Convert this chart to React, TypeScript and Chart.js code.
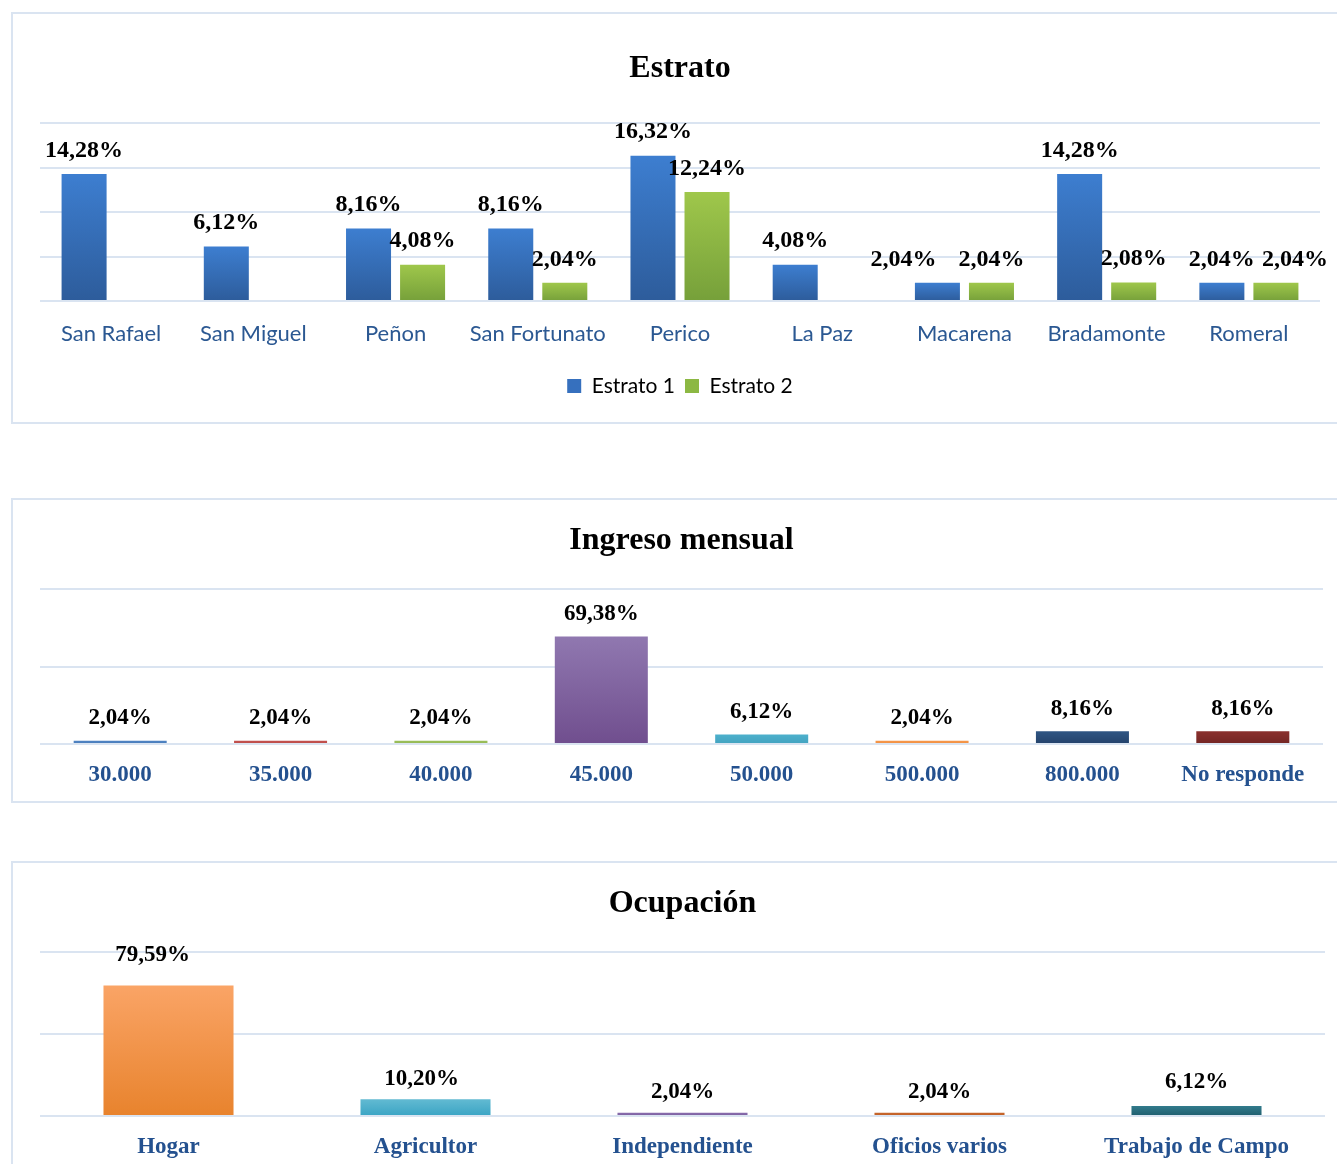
import React, { useEffect, useRef } from "react";
import { Chart, registerables } from "chart.js";

Chart.register(...registerables);

// ---------- Data ----------
const estratoCategories = ["San Rafael", "San Miguel", "Peñon", "San Fortunato", "Perico", "La Paz", "Macarena", "Bradamonte", "Romeral"];
const estrato1Values = [14.28, 6.12, 8.16, 8.16, 16.32, 4.08, 2.04, 14.28, 2.04];
const estrato2Values: (number | null)[] = [null, null, 4.08, 2.04, 12.24, null, 2.04, 2.08, 2.04];
const estratoSeriesNames = ["Estrato 1", "Estrato 2"];

const ingresoCategories = ["30.000", "35.000", "40.000", "45.000", "50.000", "500.000", "800.000", "No responde"];
const ingresoValues = [2.04, 2.04, 2.04, 69.38, 6.12, 2.04, 8.16, 8.16];

const ocupacionCategories = ["Hogar", "Agricultor", "Independiente", "Oficios varios", "Trabajo de Campo"];
const ocupacionValues = [79.59, 10.2, 2.04, 2.04, 6.12];

// ---------- Styles ----------
const estratoTop = ["#3D7ED0", "#9FC74B"];
const estratoBottom = ["#2D5C9B", "#76A03A"];
const ingresoTop = ["#4F84C4", "#C4524F", "#9CC05A", "#9078B0", "#4DB0CC", "#F7994C", "#2F5583", "#8A302D"];
const ingresoBottom = ["#4A7BB8", "#BB4C49", "#93B654", "#704E8E", "#43A3C0", "#EE8C3E", "#24426B", "#732624"];
const ocupacionTop = ["#FAA466", "#62BAD2", "#8A6DAE", "#C8672C", "#327B8C"];
const ocupacionBottom = ["#E8832D", "#3AA4C4", "#7A5E9E", "#BF5F27", "#1F5E6E"];
const estratoLabelShiftX = [[0, 0, 0, 0, 0, 0, -34, 0, 0], [0, 0, 0, 0, 0, 0, 0, 0, 19]];
const ocupacionLabelShiftX = [[-16, -4, 0, 0, 0]];
const ocupacionLabelShiftY = [-10, 0, 0, 0, -3];

const GRID = "#DAE4F1";
const AXIS_BLUE = "#2B5892";
const SERIF = '"Liberation Serif", "Times New Roman", serif';

function fmt(v: number) {
  return v.toFixed(2).replace(".", ",") + "%";
}

function gradientFill(tops: string[], bottoms: string[], byDataset: boolean) {
  return (c: any) => {
    const idx = byDataset ? c.datasetIndex : c.dataIndex;
    const t = tops[idx ?? 0];
    const b = bottoms[idx ?? 0];
    const chart = c.chart;
    const y = chart?.scales?.y;
    if (!y || c.raw == null || typeof c.raw !== "number") return t;
    const top = y.getPixelForValue(c.raw);
    const base = y.getPixelForValue(0);
    if (!isFinite(top) || !isFinite(base) || Math.abs(base - top) < 1) return b;
    const g = chart.ctx.createLinearGradient(0, top, 0, base);
    g.addColorStop(0, t);
    g.addColorStop(1, b);
    return g;
  };
}

const valueLabels = {
  id: "valueLabels",
  afterDatasetsDraw(chart: any, _args: any, opts: any) {
    const ctx = chart.ctx;
    ctx.save();
    ctx.font = `bold ${opts.size || 22}px ${SERIF}`;
    ctx.fillStyle = "#000";
    ctx.textAlign = "center";
    ctx.textBaseline = "middle";
    chart.data.datasets.forEach((ds: any, di: number) => {
      const meta = chart.getDatasetMeta(di);
      meta.data.forEach((el: any, i: number) => {
        const v = ds.data[i];
        if (v == null) return;
        const dx = opts.shiftX?.[di]?.[i] ?? 0;
        const dy = opts.shiftY?.[i] ?? 0;
        ctx.fillText(fmt(v), el.x + dx, el.y - opts.offset + dy);
      });
    });
    ctx.restore();
  },
};

function yScale(max: number, step: number) {
  return {
    min: 0,
    max,
    ticks: { display: false, stepSize: step },
    grid: { color: GRID, lineWidth: 2, drawTicks: false },
    border: { display: false },
    afterFit: (s: any) => {
      s.width = 0;
    },
  };
}

function xScale(font: any, color: string, padding: number, height: number) {
  return {
    grid: { display: false, drawTicks: false },
    border: { display: false },
    ticks: { font, color, padding, autoSkip: false, maxRotation: 0, minRotation: 0 },
    afterFit: (s: any) => {
      s.height = height;
    },
  };
}

function titleOpts(text: string, top: number, bottom: number) {
  return {
    display: true,
    text,
    color: "#000",
    font: { family: SERIF, size: 32, weight: "bold", lineHeight: 1.2 },
    padding: { top, bottom },
  };
}

function ChartCanvas({ width, height, build }: { width: number; height: number; build: () => any }) {
  const ref = useRef<HTMLCanvasElement | null>(null);
  useEffect(() => {
    if (!ref.current) return;
    const chart = new Chart(ref.current, build());
    return () => chart.destroy();
  }, []);
  return <canvas ref={ref} width={width} height={height} style={{ display: "block", width, height }} />;
}

function estratoConfig() {
  return {
    type: "bar",
    data: {
      labels: estratoCategories,
      datasets: [
        {
          label: estratoSeriesNames[0],
          data: estrato1Values,
          backgroundColor: gradientFill(estratoTop, estratoBottom, true),
          categoryPercentage: 0.76,
          barPercentage: 0.833,
        },
        {
          label: estratoSeriesNames[1],
          data: estrato2Values,
          backgroundColor: gradientFill(estratoTop, estratoBottom, true),
          categoryPercentage: 0.76,
          barPercentage: 0.833,
        },
      ],
    },
    options: {
      responsive: false,
      animation: false,
      layout: { padding: { left: 27, right: 33, top: 0, bottom: 15.5 } },
      scales: {
        x: xScale({ family: "Lato", size: 22 }, AXIS_BLUE, 19.8, 64.5),
        y: yScale(20, 5),
      },
      plugins: {
        title: titleOpts("Estrato", 35.8, 34.8),
        legend: {
          display: true,
          position: "bottom",
          labels: {
            boxWidth: 14,
            boxHeight: 14,
            padding: 10,
            color: AXIS_BLUE,
            font: { family: "Lato", size: 21 },
            generateLabels: (chart: any) =>
              chart.data.datasets.map((ds: any, i: number) => ({
                text: ds.label,
                fillStyle: ["#3670BE", "#8CB843"][i],
                strokeStyle: "rgba(0,0,0,0)",
                lineWidth: 0,
                datasetIndex: i,
                hidden: false,
              })),
          },
        },
        tooltip: { enabled: false },
        valueLabels: { offset: 23.5, size: 24, shiftX: estratoLabelShiftX },
      },
    },
    plugins: [valueLabels],
  };
}

function singleConfig(
  title: string,
  labels: string[],
  values: number[],
  tops: string[],
  bottoms: string[],
  barPct: number,
  padRight: number,
  labelOffset: number,
  shiftX: number[][] | null,
  shiftY: number[] | null,
  xHeight: number
) {
  return {
    type: "bar",
    data: {
      labels,
      datasets: [
        {
          label: title,
          data: values,
          backgroundColor: gradientFill(tops, bottoms, false),
          categoryPercentage: 1,
          barPercentage: barPct,
        },
      ],
    },
    options: {
      responsive: false,
      animation: false,
      layout: { padding: { left: 27, right: padRight, top: 0, bottom: 0 } },
      scales: {
        x: xScale({ family: SERIF, size: 23, weight: "bold" }, "#24518F", 17.2, xHeight),
        y: yScale(100, 50),
      },
      plugins: {
        title: titleOpts(title, 21.8, 28.8),
        legend: { display: false },
        tooltip: { enabled: false },
        valueLabels: { offset: labelOffset, size: 23, shiftX, shiftY },
      },
    },
    plugins: [valueLabels],
  };
}

const boxStyle = (top: number, h: number): React.CSSProperties => ({
  position: "absolute",
  left: 11,
  top,
  width: 1340,
  height: h,
  border: `2px solid ${GRID}`,
  background: "#fff",
});

export default function App() {
  return (
    <div style={{ position: "fixed", left: 0, top: 0, width: "100vw", height: "100vh", overflow: "hidden", background: "#fff" }}>
      <div style={boxStyle(12, 408)}>
        <ChartCanvas width={1340} height={408} build={estratoConfig} />
      </div>
      <div style={boxStyle(498, 301)}>
        <ChartCanvas
          width={1340}
          height={301}
          build={() =>
            singleConfig("Ingreso mensual", ingresoCategories, ingresoValues, ingresoTop, ingresoBottom, 0.58, 30, 22.5, null, null, 57)
          }
        />
      </div>
      <div style={boxStyle(861, 320)}>
        <ChartCanvas
          width={1340}
          height={310}
          build={() =>
            singleConfig("Ocupación", ocupacionCategories, ocupacionValues, ocupacionTop, ocupacionBottom, 0.506, 28, 20.5, ocupacionLabelShiftX, ocupacionLabelShiftY, 57)
          }
        />
      </div>
    </div>
  );
}
